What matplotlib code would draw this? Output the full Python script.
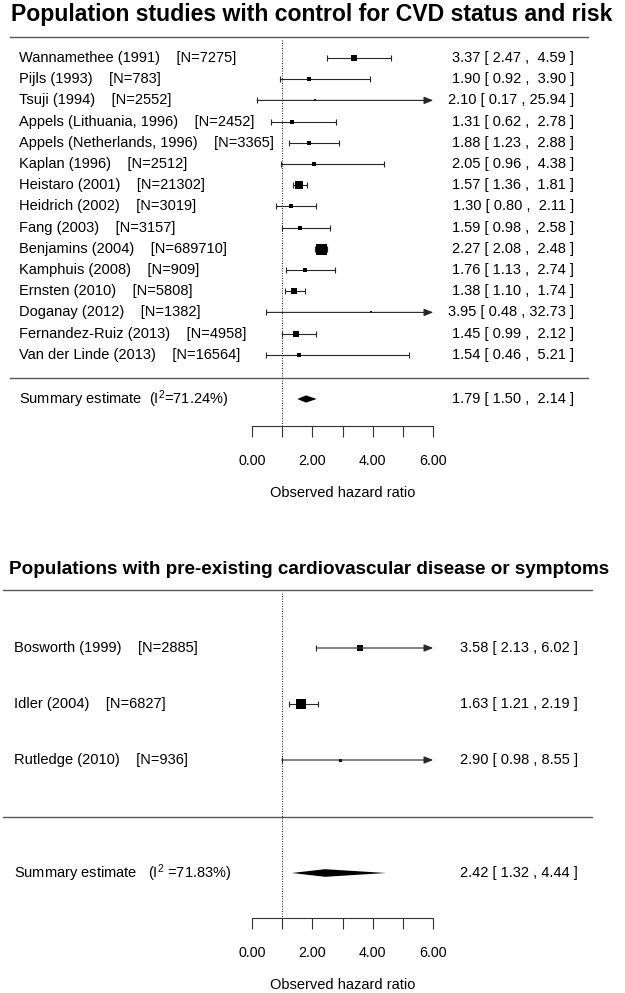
import matplotlib
matplotlib.use('Agg')
import matplotlib.pyplot as plt

plt.rcParams['font.family'] = ['Liberation Sans', 'DejaVu Sans']
plt.rcParams['mathtext.fontset'] = 'custom'
plt.rcParams['mathtext.rm'] = 'Liberation Sans'
plt.rcParams['mathtext.it'] = 'Liberation Sans:italic'

# population studies with control for CVD status and risk
pop_title = 'Population studies with control for CVD status and risk'
pop_names = ['Wannamethee (1991)', 'Pijls (1993)', 'Tsuji (1994)',
             'Appels (Lithuania, 1996)', 'Appels (Netherlands, 1996)',
             'Kaplan (1996)', 'Heistaro (2001)', 'Heidrich (2002)',
             'Fang (2003)', 'Benjamins (2004)', 'Kamphuis (2008)',
             'Ernsten (2010)', 'Doganay (2012)', 'Fernandez-Ruiz (2013)',
             'Van der Linde (2013)']
pop_n = [7275, 783, 2552, 2452, 3365, 2512, 21302, 3019, 3157, 689710,
         909, 5808, 1382, 4958, 16564]
pop_hr = [3.37, 1.90, 2.10, 1.31, 1.88, 2.05, 1.57, 1.30, 1.59, 2.27,
          1.76, 1.38, 3.95, 1.45, 1.54]
pop_lo = [2.47, 0.92, 0.17, 0.62, 1.23, 0.96, 1.36, 0.80, 0.98, 2.08,
          1.13, 1.10, 0.48, 0.99, 0.46]
pop_hi = [4.59, 3.90, 25.94, 2.78, 2.88, 4.38, 1.81, 2.11, 2.58, 2.48,
          2.74, 1.74, 32.73, 2.12, 5.21]
pop_weight = [5.7, 4.1, 1.0, 4.1, 4.1, 2.6, 8.8, 4.1, 2.6, 15.0,
              4.1, 7.2, 1.0, 5.7, 2.6]
pop_summary = [1.79, 1.50, 2.14]
pop_i2 = 71.24

# populations with pre-existing cardiovascular disease
cvd_title = 'Populations with pre-existing cardiovascular disease or symptoms'
cvd_names = ['Bosworth (1999)', 'Idler (2004)', 'Rutledge (2010)']
cvd_n = [2885, 6827, 936]
cvd_hr = [3.58, 1.63, 2.90]
cvd_lo = [2.13, 1.21, 0.98]
cvd_hi = [6.02, 2.19, 8.55]
cvd_weight = [26, 52, 15]
cvd_summary = [2.42, 1.32, 4.44]
cvd_i2 = 71.83

xticks_major = [0, 2, 4, 6]
xticks_minor = [1, 3, 5]
xlabel = 'Observed hazard ratio'

W, H = 625, 993
X0, PXU = 252, 30.2        # pixel of x=0, pixels per unit
XMAX = 6
INK = '0.15'


def fx(px):
    return px / W


def forest(fig, names, n, hr, lo, hi, weight, summary, i2, sum_fmt, lay):
    top, bot = lay['top'], lay['bot']
    ax = fig.add_axes([0, 1 - bot / H, 1, (bot - top) / H])
    ax.set_xlim(-X0 / PXU, (W - X0) / PXU)
    ax.set_ylim(bot, top)
    tr = ax.get_yaxis_transform()

    ys = [lay['row0'] + i * lay['step'] for i in range(len(names))]

    # frame lines and reference line
    for yl in (top, lay['sep']):
        ax.plot([fx(lay['line'][0]), fx(lay['line'][1])], [yl, yl],
                transform=tr, color='0.35', lw=1.0, clip_on=False)
    ax.vlines(1, top + 3, bot, colors='k', lw=0.6, linestyles=(0, (1.2, 1.8)))

    wmin, wmax = min(weight), max(weight)
    smin, smax = lay['size']
    hiw = max(len(f'{h:.2f}') for h in hi)
    for y, name, nn, e, l, h, w in zip(ys, names, n, hr, lo, hi, weight):
        if h > XMAX:
            ax.annotate('', xy=(XMAX, y), xytext=(l, y),
                        arrowprops=dict(arrowstyle='-|>,head_length=0.55,head_width=0.22',
                                        color=INK, lw=0.8, shrinkA=0, shrinkB=0))
        else:
            ax.plot([l, h], [y, y], color=INK, lw=0.8)
            ax.plot([h], [y], marker='|', ms=4, mew=0.8, color=INK)
        ax.plot([l], [y], marker='|', ms=4, mew=0.8, color=INK)
        side = smin + (smax - smin) * (w - wmin) / (wmax - wmin)
        ax.plot([e], [y], marker='s', ms=side * 0.72, mew=0, color='k')

        ax.text(fx(lay['lx']), y, f'{name}    [N={nn}]', transform=tr,
                ha='left', va='center', fontsize=10.5)
        ax.text(fx(lay['rx']), y, f'{e:.2f} [ {l:.2f} , {h:>{hiw}.2f} ]',
                transform=tr, ha='right', va='center', fontsize=10.5)

    # summary diamond
    se, sl, sh = summary
    ys_ = lay['sum']
    dh = lay['dh']
    ax.fill([sl, se, sh, se], [ys_, ys_ - dh, ys_, ys_ + dh], color='k', lw=0)
    ax.text(fx(lay['lx']), ys_, sum_fmt.format(i2), transform=tr,
            ha='left', va='center', fontsize=10.5)
    ax.text(fx(lay['rx']), ys_, f'{se:.2f} [ {sl:.2f} , {sh:>{hiw}.2f} ]',
            transform=tr, ha='right', va='center', fontsize=10.5)

    # x axis
    for s in ('top', 'left', 'right'):
        ax.spines[s].set_visible(False)
    ax.spines['bottom'].set_bounds(0, XMAX)
    ax.spines['bottom'].set_color('0.2')
    ax.spines['bottom'].set_linewidth(0.8)
    ax.yaxis.set_visible(False)
    ax.set_xticks(xticks_major)
    ax.set_xticklabels([f'{t:.2f}' for t in xticks_major], fontsize=10.3)
    ax.set_xticks(xticks_minor, minor=True)
    ax.tick_params(axis='x', which='both', length=8, width=0.8,
                   color='0.2', pad=12)
    ax.set_xlabel(xlabel, fontsize=10.5, labelpad=13,
                  x=fx(X0 + 3 * PXU))
    ax.patch.set_visible(False)
    return ax


fig = plt.figure(figsize=(W / 100, H / 100), dpi=100)

fig.text(fx(11), 1 - 15 / H, pop_title, fontsize=16.6, fontweight='bold',
         ha='left', va='center')
forest(fig, pop_names, pop_n, pop_hr, pop_lo, pop_hi, pop_weight,
       pop_summary, pop_i2, r'Summary estimate  (I$^2$={:.2f}%)',
       dict(top=37, bot=426, row0=58, step=21.2, sep=378, sum=399,
            line=(10, 588), lx=19, rx=574, size=(2, 11), dh=3.6))

fig.text(fx(9), 1 - 570 / H, cvd_title, fontsize=13.6, fontweight='bold',
         ha='left', va='center')
forest(fig, cvd_names, cvd_n, cvd_hr, cvd_lo, cvd_hi, cvd_weight,
       cvd_summary, cvd_i2, r'Summary estimate   (I$^2$ ={:.2f}%)',
       dict(top=590, bot=918, row0=648, step=56, sep=817, sum=873,
            line=(3, 592), lx=14, rx=578, size=(3, 10), dh=3.8))

fig.savefig('out.png', dpi=100)
